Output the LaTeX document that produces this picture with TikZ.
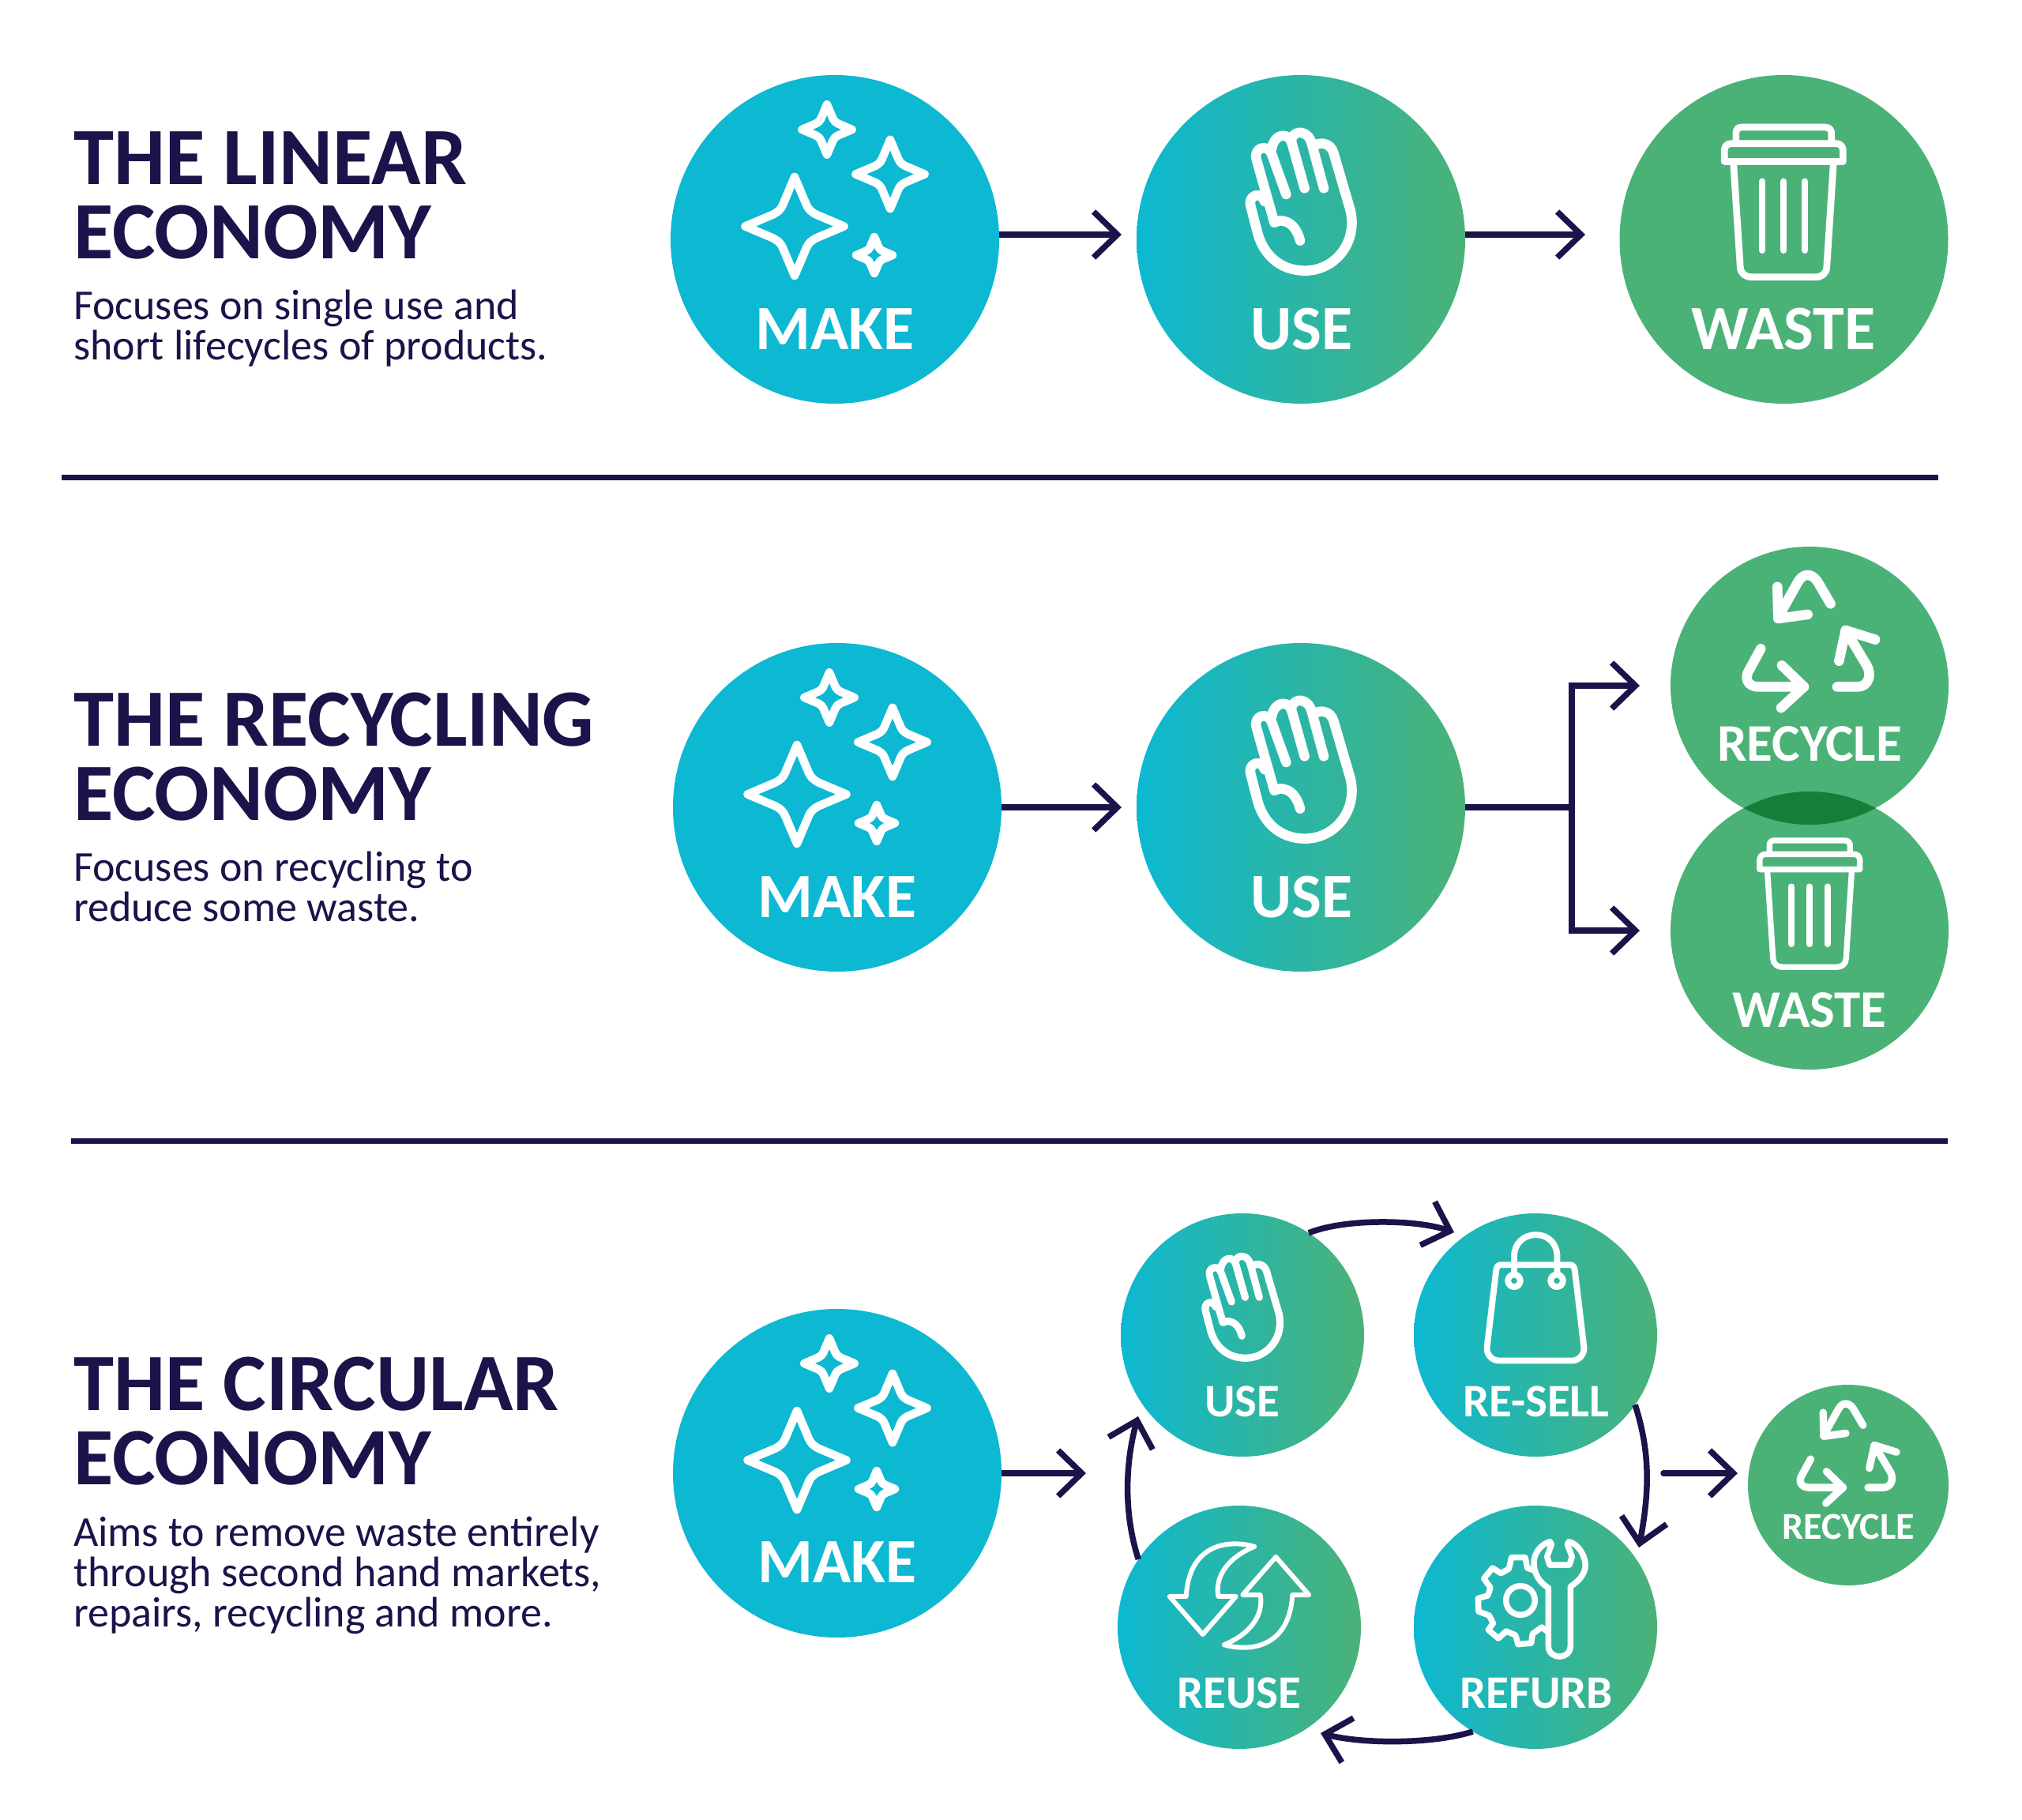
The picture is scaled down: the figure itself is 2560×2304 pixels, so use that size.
\documentclass[tikz,border=0pt]{standalone}
\usepackage{fontspec}
\setmainfont{Carlito}
\usetikzlibrary{arrows.meta,calc}
\definecolor{navy}{HTML}{1B1349}
\definecolor{cy}{HTML}{0CB8D2}
\definecolor{gr}{HTML}{4BB277}
\definecolor{lens}{HTML}{157F3A}
\tikzset{
  disc/.style={circle,inner sep=0pt,outer sep=0pt,draw=none,minimum size=#1},
  cyandisc/.style={disc=#1,fill=cy},
  greendisc/.style={disc=#1,fill=gr},
  graddisc/.style={disc=#1,left color=cy,right color=gr},
  lab/.style={text=white,font=\fontsize{#1}{#1}\selectfont\bfseries,inner sep=0pt,anchor=base},
  title/.style={text=navy,font=\fontsize{103}{94}\selectfont\bfseries,align=left,inner sep=0pt,anchor=base west},
  body/.style={text=navy,font=\fontsize{54}{51}\selectfont,align=left,inner sep=0pt,anchor=base west},
  rule/.style={navy,line width=7pt},
  conn/.style={navy,line width=7.5pt,-{Straight Barb[length=30pt,width=58pt,line width=7.5pt]}},
  plainconn/.style={navy,line width=7.5pt},
  ic/.style={white,line cap=round,line join=round},
}
\newcommand\sparkstar[3]{\draw[ic,line width=10.5pt,shift={(#1,#2)},scale=#3]
  (0,-.92) -- (.22,-.40) .. controls (.26,-.31) and (.31,-.27) .. (.40,-.22) -- (.92,0)
  -- (.40,.22) .. controls (.31,.27) and (.26,.31) .. (.22,.40) -- (0,.92)
  -- (-.22,.40) .. controls (-.26,.31) and (-.31,.27) .. (-.40,.22) -- (-.92,0)
  -- (-.40,-.22) .. controls (-.31,-.27) and (-.26,-.31) .. (-.22,-.40) -- cycle;}
\newcommand\sparkles[2]{%
  \sparkstar{#1-51}{#2-16.5}{68}
  \sparkstar{#1+70}{#2-82.5}{47.5}
  \sparkstar{#1-10}{#2-139}{34.5}
  \sparkstar{#1+50}{#2+20}{25}}
\newcommand\handicon[3]{%
  \begin{scope}[shift={(#1,#2)},scale=#3/3,shift={(-741,-489)},ic,line width=#3*12.5pt]
  \draw (738,494) .. controls (725,445) and (700,418) .. (660,418) -- (640,425) -- (572,185)
     .. controls (560,140) and (615,125) .. (630,165) -- (685,318);
  \draw (630,145) .. controls (640,85) and (695,80) .. (707,125) -- (755,295);
  \draw (705,110) .. controls (715,70) and (770,75) .. (782,125) -- (828,295);
  \draw (790,135) .. controls (815,115) and (855,125) .. (865,160) -- (928,375)
     .. controls (960,500) and (870,608) .. (757,608)
     .. controls (660,608) and (600,545) .. (578,470) -- (550,362)
     .. controls (540,320) and (590,305) .. (603,345);
  \end{scope}}
\newcommand\trashicon[3]{%
  \begin{scope}[shift={(#1,#2)},scale=#3/2.14,shift={(-1083,-1055)},ic,line width=#3*7.5pt]
  \draw (972,912) -- (972,892) .. controls (972,882) and (978,878) .. (985,878) -- (1180,878)
     .. controls (1190,878) and (1195,884) .. (1195,892) -- (1195,912);
  \draw (945,958) -- (945,932) .. controls (945,922) and (952,916) .. (962,916) -- (1205,916)
     .. controls (1215,916) and (1222,922) .. (1222,932) -- (1222,958) -- cycle;
  \draw (966,958) -- (982,1205) .. controls (983,1220) and (995,1228) .. (1008,1228) -- (1158,1228)
     .. controls (1172,1228) and (1183,1220) .. (1184,1205) -- (1200,958);
  \draw (1033,1005) -- (1033,1165) (1083,1005) -- (1083,1165) (1133,1005) -- (1133,1165);
  \end{scope}}
\newcommand\recycleicon[3]{%
  \begin{scope}[shift={(#1,#2)},scale=#3/2.14,shift={(-1078,-330)},ic,line width=#3*12.5pt]
  \draw (1137,228) -- (1103,170) .. controls (1085,142) and (1062,145) .. (1048,170) -- (995,265);
  \draw (993,182) -- (995,268) -- (1075,257);
  \draw (1155,453) -- (1210,453) .. controls (1240,453) and (1250,420) .. (1235,395) -- (1178,300);
  \draw (1160,383) -- (1178,300) -- (1258,325);
  \draw (948,350) -- (918,405) .. controls (900,432) and (915,453) .. (942,453) -- (1065,453);
  \draw (1005,395) -- (1065,453) -- (1003,510);
  \end{scope}}
\newcommand\bagicon[3]{%
  \begin{scope}[shift={(#1,#2)},scale=#3/2.14,shift={(-1154,-372)},ic,line width=#3*8pt]
  \draw (1058,178) -- (1250,178) .. controls (1258,178) and (1262,185) .. (1263,195) -- (1288,405)
     .. controls (1290,428) and (1272,443) .. (1255,443) -- (1055,443)
     .. controls (1035,443) and (1018,428) .. (1020,405) -- (1045,195)
     .. controls (1046,185) and (1050,178) .. (1058,178) -- cycle;
  \draw (1095,205) -- (1095,155) .. controls (1095,120) and (1120,95) .. (1155,95)
     .. controls (1190,95) and (1214,120) .. (1214,155) -- (1214,205);
  \draw (1095,222) circle[radius=17];
  \draw (1213,222) circle[radius=17];
  \end{scope}}
\newcommand\swapicon[3]{%
  \begin{scope}[shift={(#1,#2)},scale=#3/2.14,shift={(-357,-1095)},ic,line width=#3*6pt]
  \draw (398,962) .. controls (340,945) and (222,945) .. (213,1097) -- (168,1097) -- (258,1200)
     -- (348,1097) -- (300,1097) .. controls (290,1040) and (330,990) .. (398,962) -- cycle;
  \draw (316,1228) .. controls (374,1245) and (492,1245) .. (501,1093) -- (546,1093) -- (456,990)
     -- (366,1093) -- (414,1093) .. controls (424,1150) and (384,1200) .. (316,1228) -- cycle;
  \end{scope}}
\newcommand\toolicon[3]{%
  \begin{scope}[shift={(#1,#2)},scale=#3/3,shift={(-554,-480)},ic,line width=#3*7.5pt]
  \draw (600,330) -- (600,550) .. controls (600,605) and (684,605) .. (684,550) -- (684,325)
     .. controls (725,300) and (745,265) .. (740,235)
     .. controls (735,195) and (705,160) .. (678,155) -- (672,165) -- (690,212) -- (680,243)
     -- (605,243) -- (595,212) -- (612,165) -- (606,155)
     .. controls (570,165) and (545,200) .. (545,235)
     .. controls (545,275) and (565,310) .. (600,330);
  \draw (494,378) circle[radius=55];
  \draw (545,264) -- (520,255) -- (512,215) -- (460,215) -- (450,258) -- (420,275) -- (388,255)
     -- (355,295) -- (380,330) -- (370,360) -- (333,370) -- (335,420) -- (375,435) -- (390,465)
     -- (372,490) -- (410,522) -- (440,495) -- (475,510) -- (485,545) -- (535,540) -- (540,505)
     -- (575,480) -- (595,495);
  \end{scope}}
\begin{document}
\begin{tikzpicture}[x=1pt,y=-1pt]
\useasboundingbox (0,0) rectangle (2560,2304);
\fill[white] (0,0) rectangle (2560,2304);

% dividers
\coordinate (r1a) at (78,604);
\coordinate (r1b) at (2454,604);
\coordinate (r2a) at (90,1444);
\coordinate (r2b) at (2466,1444);
\draw[rule] (r1a) -- (r1b);
\draw[rule] (r2a) -- (r2b);

% headings
\node[title] (t1) at (93,327) {THE LINEAR\\ECONOMY};
\node[body] (b1) at (93,455) {Focuses on single use and\\short lifecycles of products.};
\node[title] (t2) at (93,1038) {THE RECYCLING\\ECONOMY};
\node[body] (b2) at (93,1166) {Focuses on recycling to\\reduce some waste.};
\node[title] (t3) at (93,1879) {THE CIRCULAR\\ECONOMY};
\node[body] (b3) at (93,2059) {Aims to remove waste entirely\\through second hand markets,\\repairs, recycling and more.};

% row 1
\node[cyandisc=416pt] (make1) at (1057,303) {};
\node[graddisc=416pt] (use1) at (1647,303) {};
\node[greendisc=416pt] (waste1) at (2258.5,303) {};
% row 2
\node[cyandisc=416pt] (make2) at (1060,1022) {};
\node[graddisc=416pt] (use2) at (1647,1022) {};
\node[greendisc=352pt] (recycle2) at (2291,868) {};
\node[greendisc=352pt] (waste2) at (2291,1178) {};
\begin{scope}
  \clip (2291,868) circle[radius=176pt];
  \fill[lens] (2291,1178) circle[radius=176pt];
\end{scope}
% row 3
\node[cyandisc=416pt] (make3) at (1060,1865) {};
\node[graddisc=308pt] (use3) at (1573,1690) {};
\node[graddisc=308pt] (resell3) at (1944,1690) {};
\node[graddisc=308pt] (reuse3) at (1569,2060) {};
\node[graddisc=308pt] (refurb3) at (1944,2060) {};
\node[greendisc=254pt] (recycle3) at (2340,1880) {};

% icons
\sparkles{1057}{303}
\sparkles{1060}{1022}
\sparkles{1060}{1865}
\handicon{1647}{303}{1}
\handicon{1647}{1022}{1}
\handicon{1573}{1690}{.737}
\trashicon{2258}{257}{1.16}
\trashicon{2291}{1145}{.98}
\recycleicon{2290}{812}{1}
\recycleicon{2338}{1840}{.75}
\bagicon{1944}{1690}{.98}
\swapicon{1569}{2020}{1}
\toolicon{1945}{2060}{1}

% labels
\node[lab=80] (lm1) at (1057,442) {MAKE};
\node[lab=80] (lu1) at (1648,442) {USE};
\node[lab=80] (lw1) at (2258,442) {WASTE};
\node[lab=80] (lm2) at (1060,1161) {MAKE};
\node[lab=80] (lu2) at (1648,1161) {USE};
\node[lab=67] (lr2) at (2291,963) {RECYCLE};
\node[lab=67] (lw2) at (2291,1300) {WASTE};
\node[lab=80] (lm3) at (1060,2003) {MAKE};
\node[lab=59] (lu3) at (1573,1793) {USE};
\node[lab=59] (ls3) at (1945,1793) {RE-SELL};
\node[lab=59] (lr3) at (1569,2162) {REUSE};
\node[lab=59] (lf3) at (1945,2162) {REFURB};
\node[lab=48] (lc3) at (2340,1948) {RECYCLE};

% connectors row 1
\draw[conn] ($(make1.east)+(0,-6)$) -- ($(use1.west)+(-19,-6)$);
\coordinate (w1end) at (2007,297);
\draw[conn] ($(use1.east)+(0,-6)$) -- (w1end);
% row 2
\draw[conn,shorten >=19pt] (make2) -- (use2);
\coordinate (fork) at (1990,1022);
\coordinate (forkup) at (2076,868);
\coordinate (forkdn) at (2076,1178);
\draw[plainconn] (use2.east) -- (fork);
\draw[conn] (fork) |- (forkup);
\draw[conn] (fork) |- (forkdn);
% row 3
\coordinate (m3end) at (1375,1865);
\draw[conn] (make3.east) -- (m3end);
\coordinate (c1end) at (1841,1560);
\coordinate (c2end) at (2075,1959);
\coordinate (c3end) at (1672,2194);
\coordinate (c4end) at (1441,1793);
\draw[conn] (use3.57) .. controls (1700,1543) and (1790,1543) .. (c1end);
\draw[conn] (resell3.-35) .. controls (2090,1840) and (2088,1890) .. (c2end);
\draw[conn] (refurb3.-121) .. controls (1815,2208) and (1725,2208) .. (c3end);
\draw[conn] (reuse3.146) .. controls (1422,1915) and (1425,1850) .. (c4end);
\coordinate (rcstart) at (2106,1865);
\coordinate (rcend) at (2200,1865);
\draw[conn,line cap=round] (rcstart) -- (rcend);
\end{tikzpicture}
\end{document}
